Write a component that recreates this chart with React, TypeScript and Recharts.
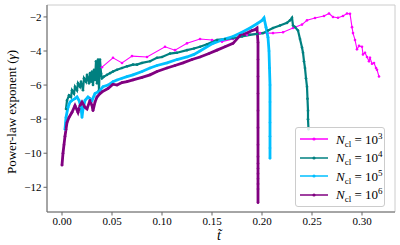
import { LineChart, Line, XAxis, YAxis, CartesianGrid, Legend } from 'recharts'

// [t~, gamma] pairs, one list per system size
const n1e3: [number, number][] = [
  [0.040, -4.95], [0.051, -4.4], [0.060, -4.7], [0.070, -4.3], [0.085, -4.35], [0.103, -3.75],
  [0.113, -3.95], [0.125, -3.55], [0.138, -3.3], [0.150, -3.35], [0.160, -3.45], [0.171, -3.3],
  [0.185, -3.05], [0.198, -2.95], [0.211, -2.95], [0.221, -2.9], [0.231, -2.65], [0.240, -2.45],
  [0.245, -2.2], [0.253, -2.06], [0.262, -1.95], [0.267, -1.8], [0.271, -2.0], [0.276, -2.05],
  [0.281, -1.95], [0.285, -1.8], [0.288, -1.82], [0.290, -2.6], [0.291, -2.95], [0.293, -3.35],
  [0.295, -3.9], [0.297, -3.7], [0.300, -3.75], [0.301, -4.2], [0.303, -4.1], [0.305, -4.35],
  [0.307, -4.6], [0.308, -4.4], [0.310, -4.75], [0.312, -4.7], [0.314, -5.0], [0.315, -5.1],
  [0.317, -5.5],
]

const n1e4: [number, number][] = [
  [0.004, -7.4], [0.005, -6.9], [0.007, -6.6], [0.009, -6.7], [0.010, -6.3], [0.012, -6.5],
  [0.013, -6.1], [0.015, -6.3], [0.016, -5.9], [0.018, -6.1], [0.019, -5.8], [0.021, -6.3],
  [0.022, -5.6], [0.024, -5.8], [0.025, -5.4], [0.027, -5.9], [0.028, -5.3], [0.029, -5.8],
  [0.030, -5.2], [0.031, -6.0], [0.032, -5.1], [0.033, -5.7], [0.034, -4.6], [0.035, -5.9],
  [0.036, -4.5], [0.037, -6.3], [0.038, -4.5], [0.039, -5.3], [0.040, -5.6], [0.042, -5.5],
  [0.045, -5.4], [0.048, -5.3], [0.051, -5.2], [0.055, -5.1], [0.060, -5.0], [0.065, -4.9],
  [0.071, -4.8], [0.075, -4.8], [0.080, -4.7], [0.088, -4.6], [0.095, -4.4], [0.100, -4.35],
  [0.108, -4.15], [0.115, -4.1], [0.125, -3.95], [0.132, -3.85], [0.138, -3.75], [0.145, -3.6],
  [0.155, -3.35], [0.163, -3.3], [0.171, -3.25], [0.180, -3.15], [0.188, -3.05], [0.195, -3.0],
  [0.201, -2.95], [0.206, -2.8], [0.211, -2.65], [0.218, -2.5], [0.225, -2.35], [0.228, -2.2],
  [0.230, -2.05], [0.231, -2.5], [0.233, -2.6], [0.236, -2.8], [0.238, -3.3], [0.240, -3.8],
  [0.241, -4.1], [0.242, -4.6], [0.243, -5.0], [0.244, -5.6], [0.245, -6.1], [0.2455, -6.8],
  [0.246, -7.5], [0.246, -8.0], [0.2465, -8.6],
]

const n1e5: [number, number][] = [
  [0.003, -8.6], [0.004, -7.9], [0.006, -7.3], [0.008, -7.0], [0.010, -6.9], [0.013, -6.8],
  [0.015, -6.7], [0.017, -6.9], [0.019, -7.3], [0.020, -7.9], [0.021, -7.4], [0.023, -6.9],
  [0.026, -6.7], [0.028, -6.8], [0.030, -6.9], [0.033, -6.5], [0.036, -6.4], [0.038, -6.3],
  [0.041, -6.1], [0.046, -6.0], [0.051, -5.8], [0.055, -5.7], [0.060, -5.6], [0.065, -5.5],
  [0.071, -5.4], [0.080, -5.2], [0.088, -5.0], [0.095, -4.85], [0.105, -4.7], [0.115, -4.5],
  [0.125, -4.35], [0.132, -4.2], [0.138, -4.0], [0.145, -3.75], [0.151, -3.55], [0.160, -3.35],
  [0.171, -3.15], [0.180, -2.9], [0.188, -2.65], [0.195, -2.4], [0.200, -2.2], [0.202, -2.06],
  [0.204, -2.6], [0.206, -3.2], [0.207, -4.0], [0.2075, -5.0], [0.208, -6.0], [0.208, -7.0],
  [0.208, -8.2], [0.208, -9.0], [0.208, -9.7], [0.208, -10.3],
]

const n1e6: [number, number][] = [
  [0.000, -10.7], [0.001, -10.0], [0.002, -9.5], [0.003, -9.0], [0.004, -8.6], [0.005, -8.2],
  [0.007, -7.9], [0.010, -7.6], [0.013, -7.2], [0.016, -7.6], [0.018, -7.2], [0.020, -7.0],
  [0.023, -7.3], [0.025, -7.4], [0.028, -6.9], [0.030, -7.2], [0.031, -7.5], [0.033, -7.0],
  [0.035, -6.7], [0.038, -6.5], [0.040, -6.4], [0.046, -6.2], [0.051, -5.95], [0.055, -6.0],
  [0.060, -5.85], [0.065, -5.8], [0.071, -5.7], [0.080, -5.55], [0.088, -5.4], [0.095, -5.2],
  [0.105, -5.0], [0.113, -4.85], [0.121, -4.7], [0.130, -4.5], [0.138, -4.35], [0.147, -4.15],
  [0.155, -3.95], [0.163, -3.75], [0.171, -3.55], [0.178, -3.1], [0.185, -2.95], [0.190, -2.8],
  [0.193, -2.75], [0.195, -2.65], [0.196, -3.5], [0.196, -4.5], [0.196, -5.5], [0.196, -6.5],
  [0.196, -7.5], [0.196, -8.5], [0.196, -9.5], [0.196, -10.2], [0.196, -10.6], [0.196, -10.9],
  [0.196, -11.2], [0.196, -11.5], [0.196, -11.8], [0.196, -12.1], [0.196, -12.9],
]

const exponents = ['3', '4', '5', '6']
const xTicks = [0, 0.05, 0.1, 0.15, 0.2, 0.25, 0.3]
const yTicks = [-12, -10, -8, -6, -4, -2]

const series = [
  { key: 'n3', exp: exponents[0], pts: n1e3, color: '#ff00ff', width: 1.1 },
  { key: 'n4', exp: exponents[1], pts: n1e4, color: '#008080', width: 2.2 },
  { key: 'n5', exp: exponents[2], pts: n1e5, color: '#00bfff', width: 2.8 },
  { key: 'n6', exp: exponents[3], pts: n1e6, color: '#800080', width: 2.8 },
]

const serif = 'Liberation Serif, DejaVu Serif, serif'
const tickStyle = { fontSize: 11, fill: '#000', fontFamily: serif, style: { fontFamily: serif } }
const fmtY = (v: number) => (v < 0 ? `\u2212${Math.abs(v)}` : `${v}`)

function LegendBox() {
  return (
    <div
      style={{
        background: 'rgba(255,255,255,0.85)',
        border: '1px solid #cccccc',
        borderRadius: 3,
        padding: '2px 0 2px 4px',
        fontFamily: serif,
        fontSize: 13,
        width: 90,
        boxSizing: 'border-box',
      }}
    >
      {series.map((s) => (
        <div key={s.key} style={{ display: 'flex', alignItems: 'center', height: 18.5 }}>
          <svg width={28} height={6}>
            <line x1={0} y1={3} x2={28} y2={3} stroke={s.color} strokeWidth={1.5} />
            <circle cx={14} cy={3} r={1.6} fill={s.color} />
          </svg>
          <span style={{ marginLeft: 8, whiteSpace: 'nowrap', lineHeight: 1 }}>
            <i>N</i>
            <span style={{ fontSize: 9, position: 'relative', top: 3 }}>cl</span>
            {' = 10'}
            <span style={{ fontSize: 9, position: 'relative', top: -5 }}>{s.exp}</span>
          </span>
        </div>
      ))}
    </div>
  )
}

export default function App() {
  return (
    <div style={{ position: 'absolute', left: 0, top: 0, width: 400, height: 245, background: '#fff', fontFamily: serif }}>
      <LineChart width={400} height={245} margin={{ top: 5, right: 5, bottom: 0, left: 0 }} style={{ fontFamily: serif }}>
        <CartesianGrid stroke="#cccccc" strokeWidth={1} />
        <XAxis
          xAxisId="b"
          type="number"
          dataKey="t"
          domain={[-0.015, 0.333]}
          ticks={xTicks}
          tickFormatter={(v: number) => v.toFixed(2)}
          tick={tickStyle}
          tickSize={3.5}
          stroke="#666"
          height={33}
          allowDataOverflow
          label={() => (
            <text x={219} y={240} textAnchor="middle" style={{ fontFamily: serif }} fontSize={14} fontStyle="italic">
              t&#771;
            </text>
          )}
        />
        <XAxis xAxisId="top" orientation="top" type="number" domain={[0, 1]} height={0} tick={false} tickLine={false} stroke="#666" />
        <YAxis
          yAxisId="l"
          type="number"
          domain={[-13.45, -1.3]}
          ticks={yTicks}
          tickFormatter={fmtY}
          tick={tickStyle}
          tickSize={3.5}
          stroke="#666"
          width={47}
          allowDataOverflow
          label={() => (
            <text x={16} y={112} transform="rotate(-90 16 112)" textAnchor="middle" style={{ fontFamily: serif }} fontSize={13}>
              Power-law exponent (<tspan fontStyle="italic">γ</tspan>)
            </text>
          )}
        />
        <YAxis yAxisId="r" orientation="right" type="number" domain={[0, 1]} width={0} tick={false} tickLine={false} stroke="#666" />
        {series.map((s) => (
          <Line
            key={s.key}
            xAxisId="b"
            yAxisId="l"
            data={s.pts.map(([t, g]) => ({ t, g }))}
            dataKey="g"
            name={s.key}
            stroke={s.color}
            strokeWidth={s.width}
            dot={{ r: 1.3, fill: s.color, stroke: s.color, strokeWidth: 0 }}
            isAnimationActive={false}
          />
        ))}
        <Legend
          layout="horizontal"
          verticalAlign="middle"
          align="center"
          content={() => <LegendBox />}
          wrapperStyle={{ left: 295, top: 127, width: 92 }}
        />
      </LineChart>
    </div>
  )
}
